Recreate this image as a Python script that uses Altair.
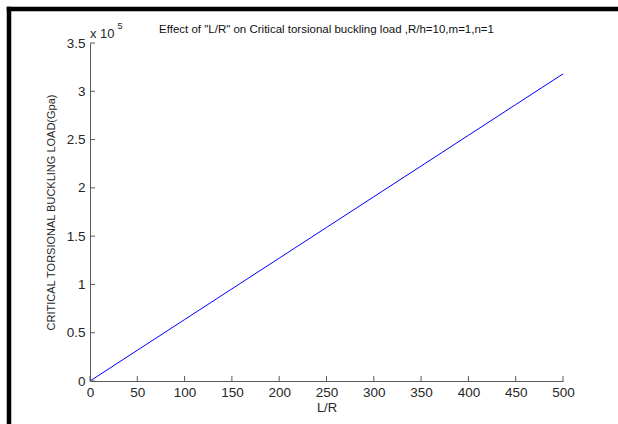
import altair as alt
import pandas as pd

# Data
lr_values = [0, 50, 100, 150, 200, 250, 300, 350, 400, 450, 500]
load_values = [0, 31800, 63600, 95400, 127200, 159000, 190800, 222600, 254400, 286200, 318000]
x_ticks = [0, 50, 100, 150, 200, 250, 300, 350, 400, 450, 500]
y_ticks = [0, 50000, 100000, 150000, 200000, 250000, 300000, 350000]

title_text = 'Effect of "L/R" on Critical torsional buckling load ,R/h=10,m=1,n=1'
x_title = "L/R"
y_title = "CRITICAL TORSIONAL BUCKLING LOAD(Gpa)"

W, H = 473, 338
FONT = "Liberation Sans"
AXIS_COLOR = "#5a5a5a"
LABEL_COLOR = "#262626"

df = pd.DataFrame({"lr": lr_values, "load": load_values})
xt = pd.DataFrame({"v": x_ticks})
yt = pd.DataFrame({"v": y_ticks})

xscale = alt.Scale(domain=[0, 500], nice=False, zero=False)
yscale = alt.Scale(domain=[0, 350000], nice=False, zero=False)

line = alt.Chart(df).mark_line(color="#0000ff", strokeWidth=1).encode(
    x=alt.X("lr:Q", scale=xscale,
            axis=alt.Axis(values=x_ticks, title=x_title, tickSize=0, labelPadding=4,
                          titlePadding=3, grid=False, labelFlush=False, labelOverlap=False)),
    y=alt.Y("load:Q", scale=yscale,
            axis=alt.Axis(values=y_ticks, title=y_title, tickSize=0, labelPadding=5,
                          titlePadding=10, grid=False, labelFlush=False, labelOverlap=False,
                          labelExpr="datum.value / 100000 + ''")),
)

x_tick_marks = alt.Chart(xt).mark_rule(color=AXIS_COLOR, strokeWidth=1).encode(
    x=alt.X("v:Q", scale=xscale),
    y=alt.value(H), y2=alt.value(H - 5),
)
y_tick_marks = alt.Chart(yt).mark_rule(color=AXIS_COLOR, strokeWidth=1).encode(
    y=alt.Y("v:Q", scale=yscale),
    x=alt.value(0), x2=alt.value(5),
)

title_mark = alt.Chart(pd.DataFrame({"t": [title_text]})).mark_text(
    font=FONT, fontSize=11.5, align="center", baseline="alphabetic", color="#111111"
).encode(text="t:N", x=alt.value(W / 2), y=alt.value(-10))

exp_text = alt.Chart(pd.DataFrame({"t": ["x 10"]})).mark_text(
    font=FONT, fontSize=13, align="left", baseline="alphabetic", color=LABEL_COLOR
).encode(text="t:N", x=alt.value(0), y=alt.value(-5))
exp_sup = alt.Chart(pd.DataFrame({"t": ["5"]})).mark_text(
    font=FONT, fontSize=9, align="left", baseline="alphabetic", color=LABEL_COLOR
).encode(text="t:N", x=alt.value(27.5), y=alt.value(-14))

frame_left = alt.Chart(pd.DataFrame({"a": [0]})).mark_rule(color="black", strokeWidth=4.5).encode(
    x=alt.value(-81), y=alt.value(-36.25), y2=alt.value(400)
)
frame_top = alt.Chart(pd.DataFrame({"a": [0]})).mark_rule(color="black", strokeWidth=4.5).encode(
    y=alt.value(-34), x=alt.value(-83.25), x2=alt.value(560)
)

chart = alt.layer(
    line, x_tick_marks, y_tick_marks, title_mark, exp_text, exp_sup, frame_left, frame_top
).properties(
    width=W, height=H,
    padding={"left": 90, "top": 43, "right": 55, "bottom": 43},
    autosize=alt.AutoSizeParams(type="none"),
    background="white",
).configure_view(stroke=None).configure_axis(
    domainColor=AXIS_COLOR, domainWidth=1, labelFont=FONT, titleFont=FONT,
    labelFontSize=13.5, labelColor=LABEL_COLOR, titleColor=LABEL_COLOR,
    titleFontWeight="normal",
).configure_axisX(titleFontSize=13).configure_axisY(titleFontSize=11)

chart.save("out.html", embed_options={"renderer": "svg", "actions": False})
